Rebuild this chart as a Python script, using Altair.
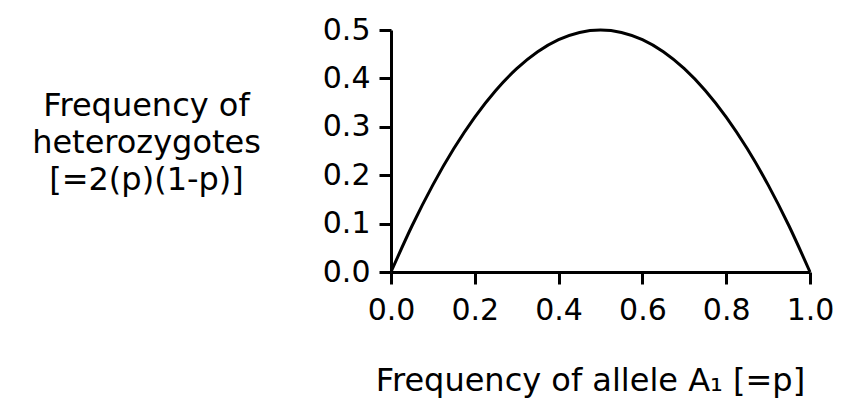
import altair as alt
import pandas as pd

# values
p_values = [0.0, 0.05, 0.1, 0.15, 0.2, 0.25, 0.3, 0.35, 0.4, 0.45, 0.5,
            0.55, 0.6, 0.65, 0.7, 0.75, 0.8, 0.85, 0.9, 0.95, 1.0]
het_values = [0.0, 0.095, 0.18, 0.255, 0.32, 0.375, 0.42, 0.455, 0.48, 0.495, 0.5,
              0.495, 0.48, 0.455, 0.42, 0.375, 0.32, 0.255, 0.18, 0.095, 0.0]
x_ticks = [0.0, 0.2, 0.4, 0.6, 0.8, 1.0]
y_ticks = [0.0, 0.1, 0.2, 0.3, 0.4, 0.5]
x_title = "Frequency of allele A\u2081 [=p]"
y_title = ["Frequency of", "heterozygotes", "[=2(p)(1-p)]"]

df = pd.DataFrame({"p": p_values, "h": het_values})

FONT = "DejaVu Sans"

chart = alt.Chart(df).mark_line(
    color="black", strokeWidth=3, interpolate="monotone"
).encode(
    x=alt.X("p:Q", scale=alt.Scale(domain=[0, 1], nice=False, zero=False),
            axis=alt.Axis(values=x_ticks, format=".1f", title=x_title,
                          titleX=199, titleY=118, titleAlign="center",
                          titleBaseline="alphabetic", labelPadding=11)),
    y=alt.Y("h:Q", scale=alt.Scale(domain=[0, 0.5], nice=False),
            axis=alt.Axis(values=y_ticks, format=".1f", title=y_title,
                          titleAngle=0, titleX=-245, titleY=85,
                          titleAlign="center", titleBaseline="alphabetic",
                          titleLineHeight=37, labelPadding=9)),
).properties(
    width=419, height=242,
    autosize=alt.AutoSizeParams(type="none"),
    padding={"left": 391, "top": 30, "right": 42, "bottom": 129},
    background="white",
).configure_axis(
    domainColor="black", domainWidth=3, tickColor="black", tickWidth=3,
    tickSize=12, grid=False, labelFont=FONT, labelFontSize=30,
    labelColor="black", titleFont=FONT, titleFontSize=32,
    titleFontWeight="normal", titleColor="black", labelFlush=False,
).configure_view(stroke=None)

chart.save("out.html", embed_options={"renderer": "svg", "actions": False})
